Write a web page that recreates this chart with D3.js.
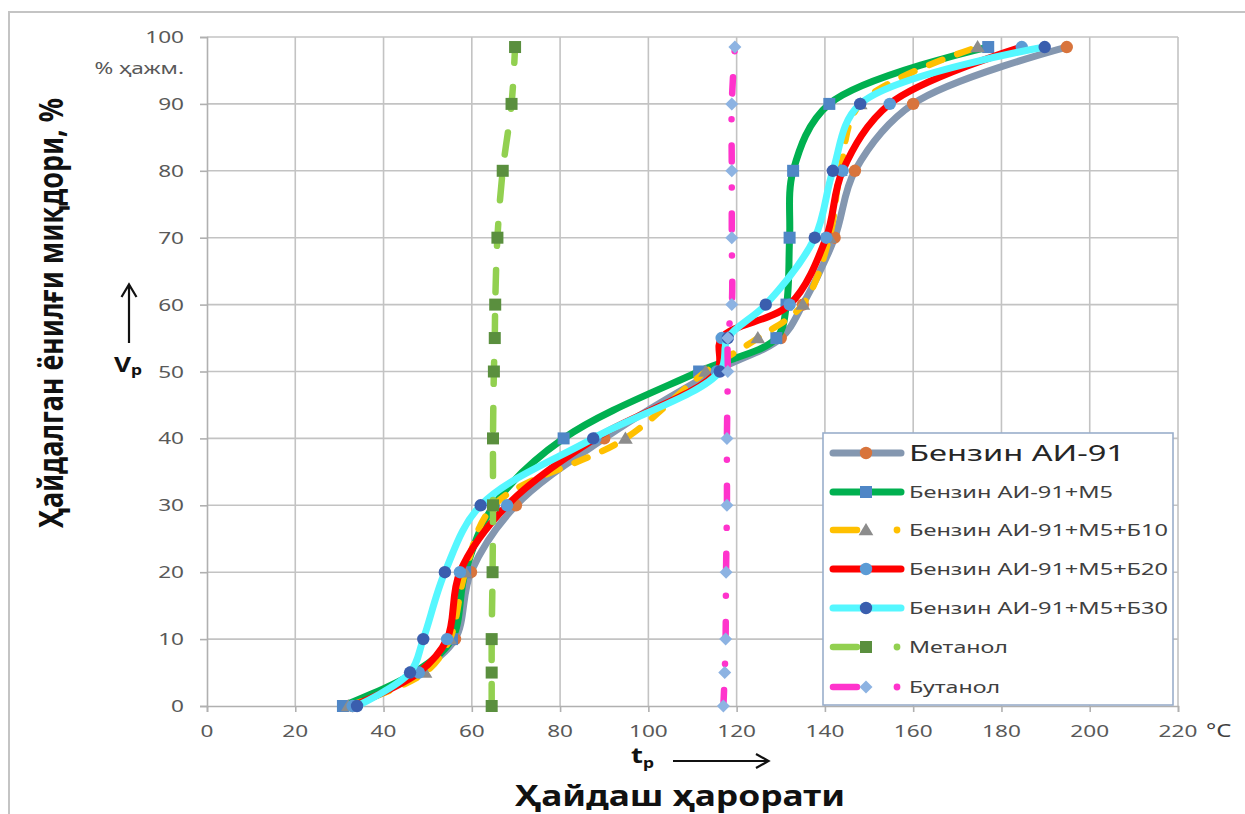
<!DOCTYPE html>
<html>
<head>
<meta charset="utf-8">
<script src="https://cdn.jsdelivr.net/npm/d3@7"></script>
<style>
  html, body { margin: 0; padding: 0; background: #fff; }
  svg { display: block; }
  text { font-family: "Noto Sans", "DejaVu Sans", sans-serif; }
</style>
</head>
<body>
<svg id="chart" width="1245" height="814"></svg>
<script>
// Distillation curves: distilled volume (%) against temperature (°C)
const volume = [0, 5, 10, 20, 30, 40, 50, 55, 60, 70, 80, 90, 98.5];

const ai91    = [33, 47.5, 56.2, 59.8, 70, 90, 115, 130, 135, 142.2, 146.8, 160, 194.8];
const m5      = [30.8, 47, 55.5, 58.5, 65, 80.8, 111.5, 129, 131.3, 132, 132.8, 141, 177];
const m5b10   = [32, 49.4, 55, 58.5, 65, 94.8, 113, 124.8, 135, 141, 143.5, 148, 174.6];
const m5b20   = [33, 48, 54.4, 57.3, 68, 88, 115.5, 116.6, 132, 140.3, 144, 154.7, 184.6];
const m5b30   = [34, 46, 49, 53.9, 62, 87.5, 116.2, 118, 126.6, 137.7, 141.8, 148, 189.8];
const metanol = [64.5, 64.5, 64.5, 64.7, 64.8, 64.8, 65, 65.2, 65.3, 65.8, 67, 69, 69.8];
const butanol = [117, 117.3, 117.5, 117.6, 117.8, 117.8, 118, 118, 118.9, 118.9, 118.9, 118.9, 119.6];

const seriesNames = [
  "Бензин АИ-91", "Бензин АИ-91+М5", "Бензин АИ-91+М5+Б10",
  "Бензин АИ-91+М5+Б20", "Бензин АИ-91+М5+Б30", "Метанол", "Бутанол"
];
const seriesValues = [ai91, m5, m5b10, m5b20, m5b30, metanol, butanol];

const xTicks = d3.range(0, 221, 20);
const yTicks = d3.range(0, 101, 10);
const xUnit = "°C";
const yUnit = "% ҳажм.";
const yTitle = "Ҳайдалган ёнилғи миқдори, %";
const xTitle = "Ҳайдаш ҳарорати";

// visual style per series
const styles = [
  { stroke: "#8497b0", dash: null, marker: "circle", fill: "#d8743c" },
  { stroke: "#00b050", dash: null, marker: "square", fill: "#4f86c6" },
  { stroke: "#ffc000", dash: "14,16", marker: "triangle", fill: "#8c8c8c" },
  { stroke: "#ff0000", dash: null, marker: "circle", fill: "#5b9bd5" },
  { stroke: "#55f7ff", dash: null, marker: "circle", fill: "#3a5eae" },
  { stroke: "#92d050", dash: "22,24", marker: "square", fill: "#5a8f3e" },
  { stroke: "#ff33cc", dash: "16,26,0.1,26", marker: "diamond", fill: "#8db3e2" }
];

const svg = d3.select("#chart");
const W = 1245, H = 814;
const SX = 1.33; // horizontal text stretch

svg.append("rect").attr("width", W).attr("height", H).attr("fill", "#fff");

// outer chart frame
svg.append("path")
  .attr("d", `M9,${H} V12 H${W}`)
  .attr("fill", "none").attr("stroke", "#c4c4c4").attr("stroke-width", 2);

const x = d3.scaleLinear().domain([0, 220]).range([207, 1178]);
const y = d3.scaleLinear().domain([0, 100]).range([706, 37]);

// gridlines
const grid = svg.append("g");
grid.selectAll(".gx").data(xTicks.filter(d => d > 0)).join("line")
  .attr("x1", d => x(d)).attr("x2", d => x(d))
  .attr("y1", y(0)).attr("y2", y(100))
  .attr("stroke", "#c3c3c3").attr("stroke-width", 1.6);
grid.selectAll(".gy").data(yTicks.filter(d => d > 0)).join("line")
  .attr("x1", x(0)).attr("x2", x(220))
  .attr("y1", d => y(d)).attr("y2", d => y(d))
  .attr("stroke", "#c3c3c3").attr("stroke-width", 1.6);

// axes
const xAxis = d3.axisBottom(x).tickValues(xTicks).tickSize(6).tickFormat("");
const yAxis = d3.axisLeft(y).tickValues(yTicks).tickSize(7).tickFormat("");
const gx = svg.append("g").attr("transform", `translate(0,${y(0)})`).call(xAxis);
const gy = svg.append("g").attr("transform", `translate(${x(0)},0)`).call(yAxis);
[gx, gy].forEach(g => {
  g.select(".domain").attr("stroke", "#b0b0b0").attr("stroke-width", 1.6);
  g.selectAll(".tick line").attr("stroke", "#b0b0b0").attr("stroke-width", 1.6);
});

function stretched(parent, px, py, str, size, anchor, opts = {}) {
  return parent.append("text")
    .attr("transform", `translate(${px},${py}) scale(${opts.sx || SX},1)`)
    .attr("text-anchor", anchor)
    .attr("font-size", size)
    .attr("font-weight", opts.weight || "normal")
    .attr("fill", opts.fill || "#595959")
    .text(str);
}

// tick labels
const labels = svg.append("g");
xTicks.forEach(t => stretched(labels, x(t), 737, t, 17, "middle"));
yTicks.forEach(t => stretched(labels, 184, y(t) + 6, t, 17, "end"));
stretched(labels, 1206, 737, xUnit, 18, "start", { fill: "#404040" });
stretched(labels, 184, 74, yUnit, 17, "end");

// curves
const line = d3.line()
  .x(d => x(d.t)).y(d => y(d.v))
  .curve(d3.curveCatmullRom.alpha(0.5));

function drawMarker(g, type, cx, cy, fill, s = 1) {
  if (type === "circle") {
    g.append("circle").attr("cx", cx).attr("cy", cy).attr("r", 6.2 * s).attr("fill", fill);
  } else if (type === "square") {
    const a = 12 * s;
    g.append("rect").attr("x", cx - a / 2).attr("y", cy - a / 2)
      .attr("width", a).attr("height", a).attr("fill", fill);
  } else if (type === "triangle") {
    const a = 7 * s;
    g.append("path")
      .attr("d", `M${cx},${cy - a} L${cx + a * 1.05},${cy + a * 0.75} L${cx - a * 1.05},${cy + a * 0.75}Z`)
      .attr("fill", fill);
  } else if (type === "diamond") {
    const a = 6.5 * s;
    g.append("path")
      .attr("d", `M${cx},${cy - a} L${cx + a},${cy} L${cx},${cy + a} L${cx - a},${cy}Z`)
      .attr("fill", fill);
  }
}

const plot = svg.append("g");
seriesValues.forEach((vals, i) => {
  const st = styles[i];
  const pts = vals.map((t, k) => ({ t, v: volume[k] }));
  const g = plot.append("g");
  g.append("path")
    .attr("d", line(pts))
    .attr("fill", "none")
    .attr("stroke", st.stroke)
    .attr("stroke-width", st.dash ? 6.5 : 7)
    .attr("stroke-linecap", "round")
    .attr("stroke-linejoin", "round")
    .attr("stroke-dasharray", st.dash);
  pts.forEach(p => drawMarker(g, st.marker, x(p.t), y(p.v), st.fill));
});

// legend
const lg = svg.append("g");
lg.append("rect")
  .attr("x", 823).attr("y", 433).attr("width", 350).attr("height", 272)
  .attr("fill", "#fff").attr("stroke", "#9aaecb").attr("stroke-width", 1.6);

const rowY = [453, 492, 530, 569, 608, 647, 687];
const labelWidths = [216, 204, 259, 259, 259, 99, 91];
seriesNames.forEach((name, i) => {
  const st = styles[i];
  const cy = rowY[i];
  if (st.dash) {
    lg.append("line").attr("x1", 833).attr("x2", 857).attr("y1", cy).attr("y2", cy)
      .attr("stroke", st.stroke).attr("stroke-width", 6.5).attr("stroke-linecap", "round");
    lg.append("circle").attr("cx", 897).attr("cy", cy).attr("r", 3.4).attr("fill", st.stroke);
  } else {
    lg.append("line").attr("x1", 833).attr("x2", 901).attr("y1", cy).attr("y2", cy)
      .attr("stroke", st.stroke).attr("stroke-width", 7).attr("stroke-linecap", "round");
  }
  drawMarker(lg, st.marker, 866, cy, st.fill);
  const big = i === 0;
  lg.append("text")
    .attr("x", 909).attr("y", cy + (big ? 8 : 6))
    .attr("font-size", big ? 22 : 17)
    .attr("fill", big ? "#262626" : "#404040")
    .attr("textLength", labelWidths[i])
    .attr("lengthAdjust", "spacingAndGlyphs")
    .text(name);
});

// axis titles and arrows
const titles = svg.append("g");
titles.append("text")
  .attr("transform", "translate(63,313) scale(1.4,1) rotate(-90)")
  .attr("text-anchor", "middle")
  .attr("font-size", 24)
  .attr("font-weight", "bold")
  .attr("fill", "#111")
  .attr("textLength", 430)
  .attr("lengthAdjust", "spacingAndGlyphs")
  .text(yTitle);

titles.append("text")
  .attr("x", 680).attr("y", 806)
  .attr("text-anchor", "middle")
  .attr("font-size", 28)
  .attr("font-weight", "bold")
  .attr("fill", "#111")
  .attr("textLength", 330)
  .attr("lengthAdjust", "spacingAndGlyphs")
  .text(xTitle);

// V_p with upward arrow
const vp = titles.append("text")
  .attr("transform", "translate(114,372) scale(1.25,1)")
  .attr("font-weight", "bold").attr("fill", "#111");
vp.append("tspan").attr("font-size", 21).text("V");
vp.append("tspan").attr("font-size", 14).attr("dy", 3).text("p");

titles.append("path")
  .attr("d", "M129,343 V285 M121.5,297 L129,284.5 L136.5,297")
  .attr("fill", "none").attr("stroke", "#111").attr("stroke-width", 2.2);

// t_p with rightward arrow
const tp = titles.append("text")
  .attr("transform", "translate(631,763) scale(1.25,1)")
  .attr("font-weight", "bold").attr("fill", "#111");
tp.append("tspan").attr("font-size", 22).text("t");
tp.append("tspan").attr("font-size", 14).attr("dy", 5).text("p");

titles.append("path")
  .attr("d", "M673,761 H768 M756,754 L768.5,761 L756,768")
  .attr("fill", "none").attr("stroke", "#111").attr("stroke-width", 2.2);
</script>
</body>
</html>
